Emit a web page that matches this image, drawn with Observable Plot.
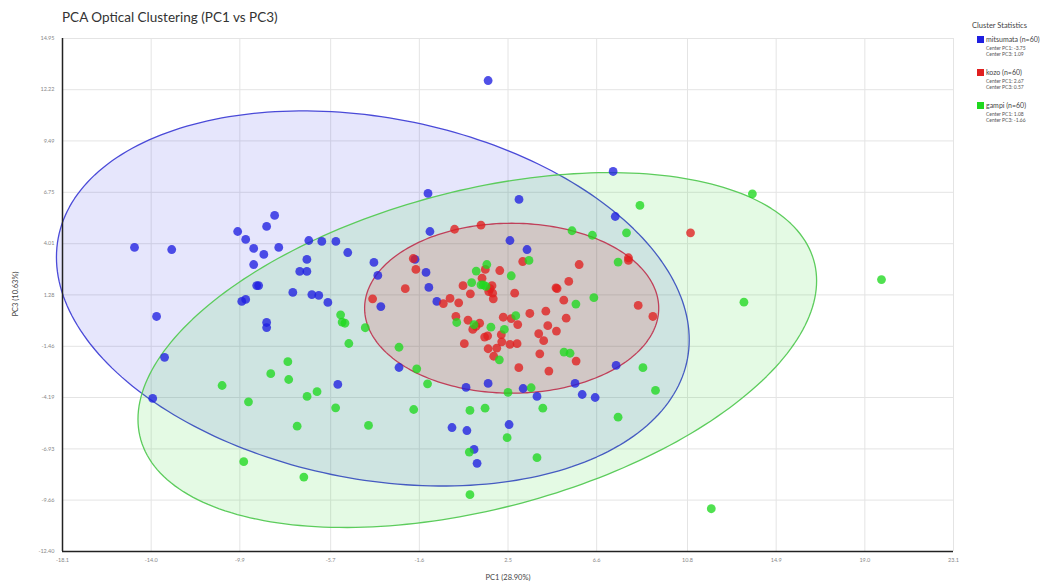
<!DOCTYPE html>
<html><head><meta charset="utf-8">
<script src="https://cdn.jsdelivr.net/npm/d3@7"></script>
<script src="https://cdn.jsdelivr.net/npm/@observablehq/plot@0.6"></script>
<style>
body{margin:0;background:#fff;font-family:Lato,"Noto Sans",sans-serif;}
#wrap{position:relative;width:1046px;height:585px;overflow:hidden;background:#fff}
#wrap svg{position:absolute;left:0;top:0}
.title{position:absolute;left:62px;top:9px;font-size:13.5px;color:#333;white-space:nowrap}
.xlabel{position:absolute;left:508px;top:573px;transform:translateX(-50%);font-size:7.5px;color:#444;white-space:nowrap}
.ylabel{position:absolute;left:15px;top:294px;transform:translate(-50%,-50%) rotate(-90deg);font-size:7.5px;color:#444;white-space:nowrap}
.legend{position:absolute;left:972px;top:21px;color:#444}
.legend .head{font-size:7.5px;margin-bottom:5px;white-space:nowrap}
.legend .item{position:relative;padding-left:14px;margin-bottom:11px}
.legend .sw{position:absolute;left:5px;top:1px;width:7px;height:7px}
.legend .name{font-size:7px;line-height:9px;white-space:nowrap}
.legend .sub{font-size:5px;line-height:5.5px;color:#555;white-space:nowrap;margin-top:2px}
.legend .sub + .sub{margin-top:0}
</style></head><body><div id="wrap"></div>
<script>
const clusters = ["mitsumata", "kozo", "gampi"];
const clusterColors = ["#1f1fe0", "#e01f1f", "#1fd81f"];
const clusterCounts = [60, 60, 60];
const centerPC1 = [-3.75, 2.67, 1.08];
const centerPC3 = [1.09, 0.57, -1.66];
// ellipse extent (half extents along PC1/PC3 and their correlation)
const ellipseHalfPC1 = [14.63, 6.8, 15.69];
const ellipseHalfPC3 = [10.0, 4.53, 9.46];
const ellipseCorr = [-0.22, 0.0, 0.39];

const xTicks = [-18.1, -14.0, -9.9, -5.7, -1.6, 2.5, 6.6, 10.8, 14.9, 19.0, 23.1];
const yTicks = [14.95, 12.22, 9.49, 6.75, 4.01, 1.28, -1.46, -4.19, -6.93, -9.66, -12.40];
const xTitle = "PC1 (28.90%)";
const yTitle = "PC3 (10.63%)";
const chartTitle = "PCA Optical Clustering (PC1 vs PC3)";

const mitsumataPC1 = [1.58,7.36,-1.20,3.01,-8.29,-8.66,-10.00,-1.11,7.46,-9.63,
  2.59,-6.71,-6.11,-5.46,-14.77,-13.05,-9.26,-8.79,-8.10,-4.91,
  3.38,-9.26,-6.80,-1.80,-3.70,-7.13,-6.80,-1.29,-3.52,-9.12,
  -9.03,-7.45,-1.16,-6.57,-6.25,-9.81,-9.63,-5.83,-3.38,-0.79,
  -13.75,-8.66,-8.66,-13.38,-2.54,7.50,-5.37,0.56,1.58,3.20,
  5.60,5.93,6.53,3.84,-13.93,-0.09,0.60,2.55,0.93,1.07];
const mitsumataPC3 = [12.71,7.86,6.69,6.37,5.52,4.93,4.66,4.66,5.46,4.24,
  4.18,4.18,4.13,4.13,3.81,3.70,3.76,3.44,3.81,3.54,
  3.70,2.90,3.17,3.17,3.01,2.53,2.53,2.48,2.32,1.78,
  1.78,1.41,1.68,1.30,1.25,0.93,1.04,0.88,0.66,0.93,
  0.13,-0.19,-0.46,-2.05,-2.59,-2.48,-3.49,-3.65,-3.44,-3.71,
  -3.44,-4.03,-4.19,-4.13,-4.24,-5.79,-5.95,-5.63,-6.96,-7.70];

const kozoPC1 = [0.03,1.25,-1.88,-1.76,-2.25,-3.76,1.45,2.12,1.30,0.42,
  1.76,0.76,1.61,1.79,1.82,2.81,3.18,-0.18,-0.49,0.22,
  0.09,0.65,1.19,0.87,1.02,0.48,1.42,1.56,2.19,2.21,
  1.58,1.98,1.84,2.28,2.65,2.95,2.59,2.92,3.51,3.00,
  4.25,4.34,3.92,4.15,3.97,4.39,5.79,5.31,4.72,4.77,
  5.08,5.19,4.74,5.65,8.07,8.07,8.52,9.20,10.94,1.67];
const kozoPC3 = [4.78,5.00,3.22,2.64,1.61,1.07,2.64,2.58,2.17,1.77,
  1.77,1.34,1.46,1.37,1.07,1.37,3.06,1.09,0.82,0.86,
  0.13,-0.07,-0.23,-0.56,-0.40,-1.32,-0.97,-0.90,-0.84,-1.22,
  -1.59,-1.56,-1.99,0.09,0.02,-0.30,-1.36,-1.32,0.29,-2.60,
  0.41,-0.36,-0.79,-1.16,-1.86,-2.78,2.90,2.00,1.66,1.62,
  1.00,0.04,-0.65,-2.25,3.26,3.12,0.72,0.13,4.59,1.62];

const gampiPC1 = [-5.24,-5.17,-5.04,-4.86,-2.54,-1.72,-1.22,-1.86,-7.68,-8.47,
  -7.64,-10.72,-9.50,-6.79,-6.33,-5.47,-7.25,-3.95,-9.72,-6.94,
  1.52,1.03,2.65,0.82,1.25,1.36,3.47,0.13,0.93,1.71,
  2.33,2.86,2.10,-4.10,2.50,3.57,8.60,5.46,6.40,7.98,
  7.59,6.47,5.64,5.09,5.37,8.74,9.32,0.74,1.44,4.11,
  7.59,2.46,0.71,3.84,0.74,13.80,13.41,19.77,11.90,1.48];
const gampiPC3 = [0.22,-0.17,-0.23,-1.31,-1.51,-2.66,-3.46,-4.83,-2.28,-2.92,
  -3.23,-3.55,-4.42,-4.13,-3.88,-4.74,-5.72,-5.68,-7.61,-8.43,
  2.90,2.55,2.30,1.94,1.82,1.82,3.12,-0.19,-0.31,-0.44,
  -0.56,0.17,-2.18,-0.47,-3.92,-3.67,6.05,4.70,4.46,4.59,
  3.03,1.13,0.79,-1.77,-1.83,-2.60,-3.81,-4.88,-4.76,-4.76,
  -5.24,-6.33,-7.10,-7.40,-9.37,6.67,0.89,2.10,-10.12,1.73];

const pc1Series = [mitsumataPC1, kozoPC1, gampiPC1];
const pc3Series = [mitsumataPC3, kozoPC3, gampiPC3];

const points = clusters.map((c, i) => pc1Series[i].map((x, j) => ({cluster: c, pc1: x, pc3: pc3Series[i][j]})));

function ellipse(i) {
  const sx = ellipseHalfPC1[i], sy = ellipseHalfPC3[i], r = ellipseCorr[i];
  const l21 = r * sy, l22 = sy * Math.sqrt(1 - r * r);
  const n = 240, out = [];
  for (let k = 0; k < n; k++) {
    const t = 2 * Math.PI * k / n;
    out.push({x: centerPC1[i] + sx * Math.cos(t), y: centerPC3[i] + l21 * Math.cos(t) + l22 * Math.sin(t)});
  }
  return out;
}

const fillOp = [0.11, 0.14, 0.12];
const strokeCols = ["#4a4ad8", "#c0405a", "#5ccc5c"];
const marks = [
  Plot.gridX(xTicks, {stroke: "#e4e4e4", strokeOpacity: 1}),
  Plot.gridY(yTicks, {stroke: "#e4e4e4", strokeOpacity: 1})
];
for (const i of [0, 2, 1]) {
  marks.push(Plot.line(ellipse(i), {x: "x", y: "y", curve: "linear-closed", fill: clusterColors[i], fillOpacity: fillOp[i], stroke: strokeCols[i], strokeWidth: 1.3}));
}
for (const i of [0, 1, 2]) {
  marks.push(Plot.dot(points[i], {x: "pc1", y: "pc3", r: 4.4, fill: clusterColors[i], fillOpacity: 0.78, stroke: "none"}));
}
marks.push(
  Plot.ruleX([xTicks[0]], {stroke: "#222", strokeWidth: 1.5}),
  Plot.ruleY([yTicks[yTicks.length - 1]], {stroke: "#222", strokeWidth: 1.5}),
  Plot.axisX(xTicks, {tickFormat: d => d.toFixed(1), tickSize: 0, tickPadding: 7, fill: "#888", fontSize: 5.5, label: null}),
  Plot.axisY(yTicks, {tickFormat: d => d.toFixed(2), tickSize: 0, tickPadding: 8, fill: "#888", fontSize: 5.5, label: null})
);

const chart = Plot.plot({
  width: 1046, height: 585,
  marginLeft: 62, marginRight: 93, marginTop: 38, marginBottom: 34,
  x: {domain: [xTicks[0], xTicks[xTicks.length - 1]]},
  y: {domain: [yTicks[yTicks.length - 1], yTicks[0]]},
  style: {fontFamily: "Lato, 'Noto Sans', sans-serif", background: "transparent"},
  marks
});
const wrap = document.getElementById("wrap");
wrap.appendChild(chart);

const t = document.createElement("div"); t.className = "title"; t.textContent = chartTitle; wrap.appendChild(t);
const xl = document.createElement("div"); xl.className = "xlabel"; xl.textContent = xTitle; wrap.appendChild(xl);
const yl = document.createElement("div"); yl.className = "ylabel"; yl.textContent = yTitle; wrap.appendChild(yl);

const lg = document.createElement("div"); lg.className = "legend";
lg.innerHTML = `<div class="head">Cluster Statistics</div>` + clusters.map((c, i) =>
  `<div class="item"><div class="sw" style="background:${clusterColors[i]}"></div>
   <div class="name">${c} (n=${clusterCounts[i]})</div>
   <div class="sub">Center PC1: ${centerPC1[i].toFixed(2)}</div>
   <div class="sub">Center PC3: ${centerPC3[i].toFixed(2)}</div></div>`).join("");
wrap.appendChild(lg);
</script></body></html>
